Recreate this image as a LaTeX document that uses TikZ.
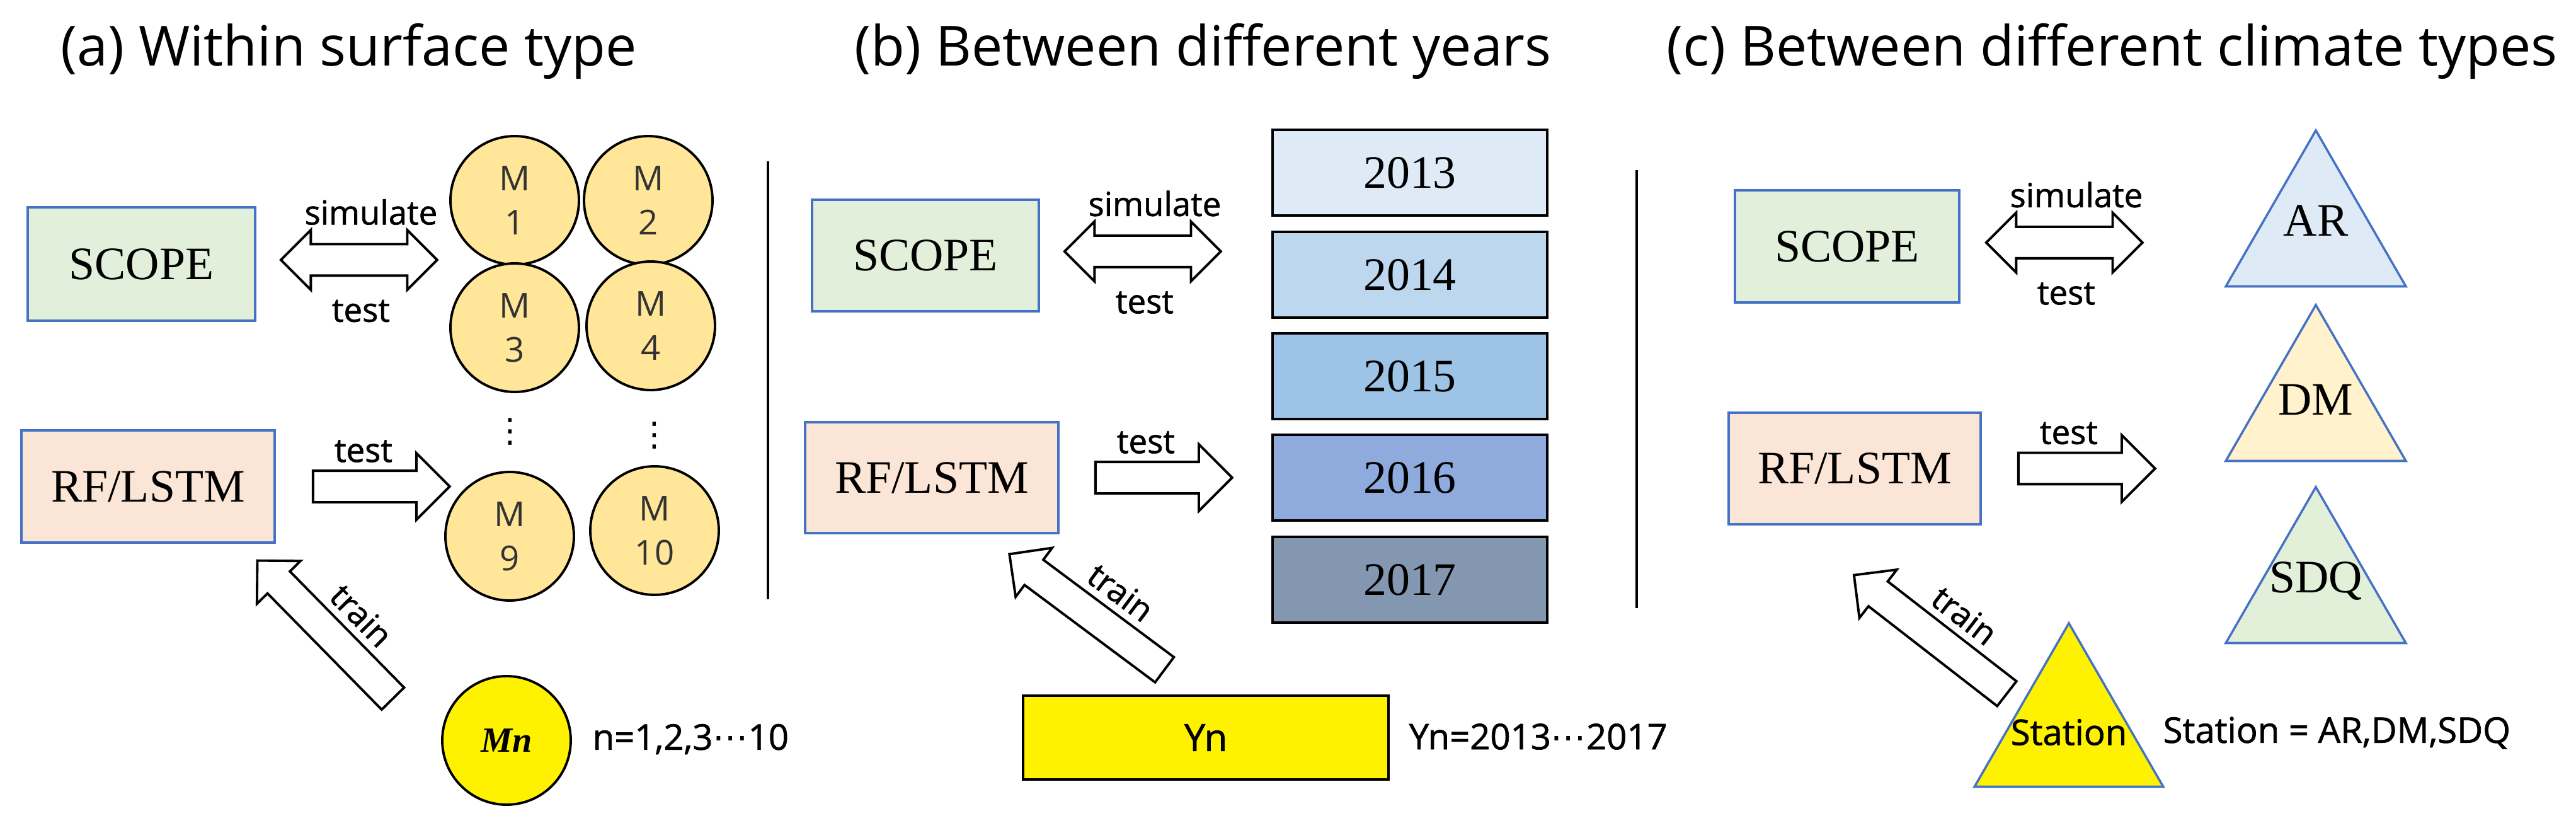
\documentclass[tikz,border=0pt]{standalone}
\usepackage{fontspec}
\usepackage{amsmath}
\usepackage{xcolor}
\usepackage{tikz}
\usetikzlibrary{shapes,arrows,positioning,calc}
\setmainfont{Liberation Serif}
\newfontfamily\sansf{Open Sans}
\newfontfamily\sansm[FakeBold=1.2]{Open Sans}
\newfontfamily\dejavu{DejaVu Sans}

\definecolor{scopegreen}{HTML}{E2EFDA}
\definecolor{rforange}{HTML}{FBE5D6}
\definecolor{edgeblue}{HTML}{4472C4}
\definecolor{mgold}{HTML}{FFE699}
\definecolor{yrA}{HTML}{DEEBF7}
\definecolor{yrB}{HTML}{BDD7EE}
\definecolor{yrC}{HTML}{9DC3E6}
\definecolor{yrD}{HTML}{8FAADC}
\definecolor{yrE}{HTML}{8497B0}
\definecolor{dmyellow}{HTML}{FFF2CC}
\definecolor{sdqgreen}{HTML}{E2F0D9}

\begin{document}
\begin{tikzpicture}[
    title/.style={anchor=base west, inner sep=0, font=\sansf\fontsize{25}{30}\selectfont},
    model/.style={rectangle, draw=edgeblue, line width=1.1pt, inner sep=0, font=\fontsize{21}{25}\selectfont},
    mcirc/.style={circle, draw, line width=1.1pt, fill=mgold, minimum size=2.04cm, inner sep=0, align=center, text=black!80, font=\sansf\fontsize{15.5}{20}\selectfont},
    vdot/.style={inner sep=0, font=\dejavu\fontsize{15}{18}\selectfont},
    year/.style={rectangle, draw, line width=1.4pt, minimum width=4.36cm, minimum height=1.36cm, inner sep=0, font=\fontsize{21}{25}\selectfont},
    climate/.style={regular polygon, regular polygon sides=3, draw=edgeblue, line width=1pt, minimum size=3.3cm, inner sep=0},
    climtxt/.style={inner sep=0, font=\fontsize{21}{25}\selectfont},
    dblarr/.style={double arrow, draw, fill=white, line width=1.1pt, inner xsep=0, inner ysep=0.23cm, double arrow head extend=0.225cm, minimum height=2.48cm},
    sglarr/.style={single arrow, draw, fill=white, line width=1.1pt, inner xsep=0, inner ysep=0.23cm, single arrow head extend=0.28cm, minimum height=2.17cm, anchor=tail},
    trainarr/.style={single arrow, draw, fill=white, line width=1.1pt, inner xsep=0, inner ysep=0.23cm, single arrow head extend=0.235cm, minimum height=3.07cm, anchor=tail},
    lbl/.style={inner sep=0, font=\sansm\fontsize{15}{18}\selectfont},
    note/.style={anchor=west, inner sep=0, font=\sansm\fontsize{16}{19}\selectfont}
]
    \path[use as bounding box, fill=white] (0,0) rectangle (40.89,-13.14);

    % Titles
    \node[title] (ttlA) at (0.96,-1.05) {(a) Within surface type};
    \node[title] (ttlB) at (13.56,-1.05) {(b) Between different years};
    \node[title] (ttlC) at (26.45,-1.05) {(c) Between different climate types};

    % (a) Within surface type
    \node[model, fill=scopegreen, minimum width=3.61cm, minimum height=1.80cm] (scopeA) at (2.245,-4.19) {SCOPE};
    \node[model, fill=rforange, minimum width=4.02cm, minimum height=1.78cm] (rfA) at (2.35,-7.72) {RF/LSTM};

    \node[mcirc] (m1) at (8.17,-3.18) {M\\1};
    \node[mcirc] (m2) at (10.29,-3.18) {M\\2};
    \node[mcirc] (m3) at (8.17,-5.20) {M\\3};
    \node[mcirc] (m4) at (10.33,-5.17) {M\\4};
    \node[vdot] (dotsL) at (8.10,-6.85) {⋮};
    \node[vdot] (dotsR) at (10.39,-6.91) {⋮};
    \node[mcirc] (m9) at (8.09,-8.51) {M\\9};
    \node[mcirc] (m10) at (10.39,-8.42) {M\\10};

    \node[circle, draw, line width=1.1pt, fill=yellow, minimum size=2.04cm, inner sep=0, font=\bfseries\itshape\fontsize{16}{19}\selectfont] (mn) at (8.04,-11.75) {Mn};
    \node[note] (mnNote) at (9.40,-11.73) {n=1,2,3{\dejavu ⋯}10};

    \node[dblarr] (dblA) at ([shift={(1.63,0.065)}]scopeA.east) {};
    \node[lbl] (simA) at ([shift={(0.19,0.76)}]dblA.center) {simulate};
    \node[lbl] (tstA) at ([shift={(0.03,-0.81)}]dblA.center) {test};
    \node[sglarr] (arrA) at ([xshift=0.57cm]rfA.east) {};
    \node[lbl] (tstA2) at ([shift={(0.82,0.56)}]arrA.tail) {test};
    \node[trainarr, rotate=134.5] (trA) at ([shift={(-1.79,0.65)}]mn.center) {};
    \node[lbl, rotate=-45.5] (trlA) at ($(trA.tail)!0.42!(trA.tip)!0.57cm!-90:(trA.tip)$) {train};

    \draw[line width=1.1pt] (12.19,-2.56) -- (12.19,-9.51);

    % (b) Between different years
    \node[model, fill=scopegreen, minimum width=3.60cm, minimum height=1.77cm] (scopeB) at (14.69,-4.055) {SCOPE};
    \node[model, fill=rforange, minimum width=4.02cm, minimum height=1.76cm] (rfB) at (14.79,-7.58) {RF/LSTM};

    \node[year, fill=yrA] (y13) at (22.38,-2.74) {2013};
    \node[year, fill=yrB] (y14) at (22.38,-4.36) {2014};
    \node[year, fill=yrC] (y15) at (22.38,-5.97) {2015};
    \node[year, fill=yrD] (y16) at (22.38,-7.58) {2016};
    \node[year, fill=yrE] (y17) at (22.38,-9.20) {2017};

    \node[rectangle, draw, line width=1.3pt, fill=yellow, minimum width=5.80cm, minimum height=1.33cm, inner sep=0, font=\sansm\fontsize{17}{20}\selectfont] (yn) at (19.14,-11.705) {Yn};
    \node[note] (ynNote) at (22.36,-11.69) {Yn=2013{\dejavu ⋯}2017};

    \node[dblarr] (dblB) at ([shift={(1.63,0.065)}]scopeB.east) {};
    \node[lbl] (simB) at ([shift={(0.19,0.76)}]dblB.center) {simulate};
    \node[lbl] (tstB) at ([shift={(0.03,-0.81)}]dblB.center) {test};
    \node[sglarr] (arrB) at ([xshift=0.55cm]rfB.east) {};
    \node[lbl] (tstB2) at ([shift={(0.82,0.56)}]arrB.tail) {test};
    \node[trainarr, rotate=143.3] (trB) at ([shift={(-0.64,1.065)}]yn.center) {};
    \node[lbl, rotate=-36.7] (trlB) at ($(trB.tail)!0.42!(trB.tip)!0.57cm!-90:(trB.tip)$) {train};

    \draw[line width=1.1pt] (25.98,-2.70) -- (25.98,-9.65);

    % (c) Between different climate types
    \node[model, fill=scopegreen, minimum width=3.56cm, minimum height=1.78cm] (scopeC) at (29.32,-3.91) {SCOPE};
    \node[model, fill=rforange, minimum width=4.00cm, minimum height=1.77cm] (rfC) at (29.44,-7.435) {RF/LSTM};

    \node[climate, fill=yrA, label={[climtxt, name=arTxt, yshift=0.22cm]center:AR}] (ar) at (36.76,-3.72) {};
    \node[climate, fill=dmyellow, label={[climtxt, name=dmTxt, yshift=0.15cm]center:DM}] (dm) at (36.76,-6.49) {};
    \node[climate, fill=sdqgreen, label={[climtxt, name=sdqTxt, yshift=0.16cm]center:SDQ}] (sdq) at (36.76,-9.38) {};

    \node[climate, fill=yellow, minimum size=3.46cm, label={[lbl, name=stTxt, font=\sansm\fontsize{16}{19}\selectfont]center:Station}] (station) at (32.84,-11.62) {};
    \node[note] (stNote) at (34.33,-11.63) {Station = AR,DM,SDQ};

    \node[dblarr] (dblC) at ([shift={(1.65,0.06)}]scopeC.east) {};
    \node[lbl] (simC) at ([shift={(0.19,0.76)}]dblC.center) {simulate};
    \node[lbl] (tstC) at ([shift={(0.03,-0.81)}]dblC.center) {test};
    \node[sglarr] (arrC) at ([xshift=0.56cm]rfC.east) {};
    \node[lbl] (tstC2) at ([shift={(0.82,0.56)}]arrC.tail) {test};
    \node[trainarr, rotate=142.2] (trC) at ([shift={(-0.97,0.60)}]station.center) {};
    \node[lbl, rotate=-37.8] (trlC) at ($(trC.tail)!0.42!(trC.tip)!0.57cm!-90:(trC.tip)$) {train};
\end{tikzpicture}
\end{document}
